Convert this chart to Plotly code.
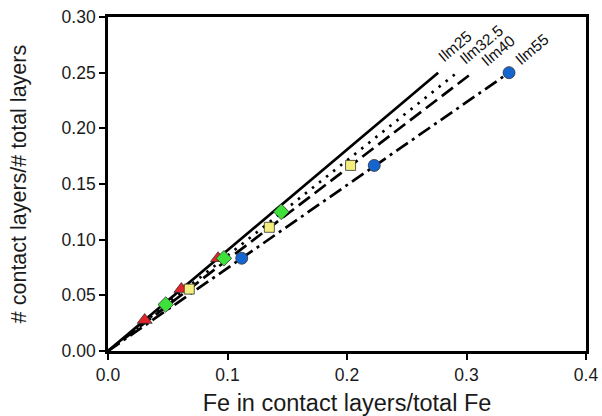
import plotly.graph_objects as go

# Reference lines: contact-layer fraction vs Fe fraction, one per composition
line_names = ["Ilm25", "Ilm32.5", "Ilm40", "Ilm55"]
line_x_end = [0.2763, 0.292, 0.305, 0.3356]
line_y_end = [0.25, 0.25, 0.25, 0.25]
line_dash = ["solid", "2.5px,6.5px", "14px,6px", "14px,5px,3px,5px"]

# Computed points for each composition
ilm25_x = [0.0307, 0.0614, 0.0921]
ilm25_y = [0.0278, 0.0556, 0.0833]
ilm325_x = [0.0483, 0.0970, 0.1450]
ilm325_y = [0.0417, 0.0833, 0.1250]
ilm40_x = [0.0680, 0.1350, 0.2030]
ilm40_y = [0.0556, 0.1111, 0.1667]
ilm55_x = [0.1119, 0.2228, 0.3356]
ilm55_y = [0.0833, 0.1667, 0.2500]

# Label positions for the line names
label_x = [0.2900, 0.3125, 0.3265, 0.3545]
label_y = [0.2735, 0.2752, 0.2700, 0.2708]

x_ticks = [0.0, 0.1, 0.2, 0.3, 0.4]
y_ticks = [0.00, 0.05, 0.10, 0.15, 0.20, 0.25, 0.30]

FONT = "Liberation Sans, Arial, sans-serif"

fig = go.Figure()

for name, xe, ye, dash in zip(line_names, line_x_end, line_y_end, line_dash):
    fig.add_trace(go.Scatter(
        x=[0, xe], y=[0, ye], mode="lines", name=name,
        line=dict(color="black", width=2.7, dash=dash),
        showlegend=False, hoverinfo="skip",
    ))

point_sets = [
    (ilm25_x, ilm25_y, "triangle-up", "#e3242b", 13),
    (ilm325_x, ilm325_y, "diamond", "#3ee03a", 12),
    (ilm40_x, ilm40_y, "square", "#f4ef7c", 10),
    (ilm55_x, ilm55_y, "circle", "#1565d0", 12),
]
for (xs, ys, sym, col, sz), name in zip(point_sets, line_names):
    fig.add_trace(go.Scatter(
        x=xs, y=ys, mode="markers", name=name,
        marker=dict(symbol=sym, color=col, size=sz,
                    line=dict(color="#333333", width=0.8)),
        showlegend=False,
    ))

for name, lx, ly in zip(line_names, label_x, label_y):
    fig.add_annotation(
        x=lx, y=ly, text=name, showarrow=False, textangle=-40,
        xanchor="center", yanchor="middle",
        font=dict(family=FONT, size=15.5, color="#111111"),
    )

axis_common = dict(
    showgrid=False, zeroline=False, showline=True, linecolor="black",
    linewidth=2.7, mirror=True, ticks="outside", ticklen=6, tickwidth=2,
    tickcolor="black", automargin=False,
    tickfont=dict(family=FONT, size=17.5, color="#1a1a1a"),
)

fig.update_xaxes(
    range=[0, 0.4], tickvals=x_ticks, ticktext=[f"{v:.1f}" for v in x_ticks],
    title=dict(text="Fe in contact layers/total Fe", standoff=14,
               font=dict(family=FONT, size=23.5, color="#1a1a1a")),
    **axis_common,
)
fig.update_yaxes(
    range=[0, 0.30], tickvals=y_ticks, ticktext=[f"{v:.2f}" for v in y_ticks],
    title=dict(text="# contact layers/# total layers", standoff=30,
               font=dict(family=FONT, size=21.5, color="#1a1a1a")),
    **axis_common,
)

fig.update_layout(
    width=602, height=416,
    margin=dict(l=108, r=16, t=17, b=65),
    plot_bgcolor="white", paper_bgcolor="white",
)

fig.write_html("out.html")
